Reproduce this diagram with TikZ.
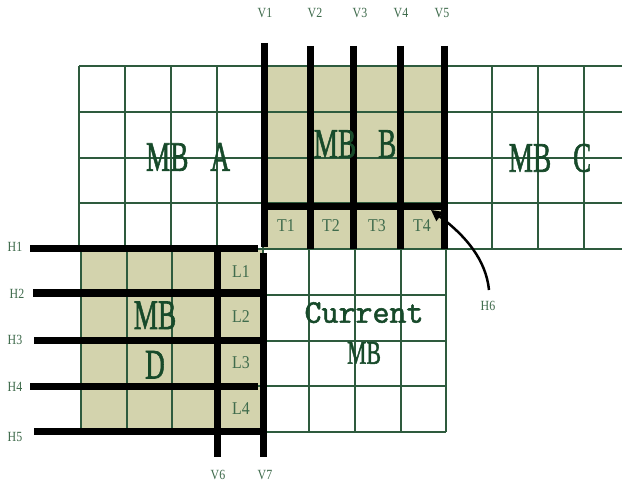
\documentclass[tikz,border=0pt]{standalone}
\usepackage{fontspec}
\setmainfont{Liberation Serif}
\newfontfamily\bigserif[FakeBold=1.6]{Liberation Serif}
\newfontfamily\curfont[FakeBold=1.6]{Latin Modern Mono}
\usetikzlibrary{arrows.meta}
\definecolor{gridc}{HTML}{2E5B3E}
\definecolor{fillc}{HTML}{D3D3AD}
\definecolor{bigtxt}{HTML}{174A2A}
\definecolor{smalltxt}{HTML}{3F6B4C}
\newcommand{\cnd}[2]{\scalebox{#1}[1]{#2}}
\tikzset{
  gridline/.style={draw=gridc, line width=1.2pt},
  thick line/.style={draw=black, line width=7pt},
  biglabel/.style={text=bigtxt, font=\fontsize{42}{49.5}\bigserif, inner sep=0pt, align=center},
  curlabel/.style={text=bigtxt, font=\fontsize{33}{41}\selectfont, inner sep=0pt, align=center},
  celllabel/.style={text=smalltxt, font=\fontsize{18}{18}\selectfont, inner sep=0pt},
  axlabel/.style={text=smalltxt, font=\fontsize{14}{14}\selectfont, inner sep=0pt},
}
\begin{document}
\begin{tikzpicture}[x=1pt,y=-1pt]
\useasboundingbox (0,0) rectangle (622,484);
\fill[white] (0,0) rectangle (622,484);
% shaded blocks
\fill[fillc] (263,66) rectangle (446,249);
\fill[fillc] (81,249) rectangle (263,432);
% grid top row (MB A, B, C)
\foreach \y in {66,112,158,203,249} \draw[gridline] (79,\y) -- (622,\y);
\foreach \x in {79,125,171,217,263,309,355,400,446,492,538,584} \draw[gridline] (\x,66) -- (\x,249);
% grid bottom row (MB D, Current)
\foreach \y in {295,341,386,432} \draw[gridline] (81,\y) -- (446,\y);
\foreach \x in {81,127,172,217,263,309,355,401,446} \draw[gridline] (\x,249) -- (\x,432);
% thick lines
\draw[thick line] (264,43) -- (264,247);
\draw[thick line] (310,46) -- (310,249);
\draw[thick line] (353,46) -- (353,249);
\draw[thick line] (400,46) -- (400,249);
\draw[thick line] (444,46) -- (444,249);
\draw[thick line] (263,207) -- (447,207);
\draw[thick line] (217,249) -- (217,457);
\draw[thick line] (263,253) -- (263,457);
\draw[thick line] (30,249) -- (258,249);
\draw[thick line] (33,293) -- (263,293);
\draw[thick line] (34,340) -- (263,340);
\draw[thick line] (30,386) -- (258,386);
\draw[thick line] (34,431) -- (263,431);
% big labels
\node[biglabel] (mba) at (188,157) {\cnd{0.65}{MB\hspace{0.8em}A}};
\node[biglabel] (mbb) at (355,144) {\cnd{0.65}{MB\hspace{0.8em}B}};
\node[biglabel] (mbc) at (550,158) {\cnd{0.65}{MB\hspace{0.8em}C}};
\node[biglabel] (mbd) at (155,340) {\cnd{0.65}{MB}\\\cnd{0.65}{D}};
\node[curlabel] (cur) at (364,333) {{\curfont Current}\\{\bigserif\cnd{0.66}{MB}}};
% cell labels
\node[celllabel] (t1) at (286,226) {\cnd{0.88}{T1}};
\node[celllabel] (t2) at (331,226) {\cnd{0.88}{T2}};
\node[celllabel] (t3) at (377,226) {\cnd{0.88}{T3}};
\node[celllabel] (t4) at (422,226) {\cnd{0.88}{T4}};
\node[celllabel] (l1) at (241,272) {\cnd{0.88}{L1}};
\node[celllabel] (l2) at (241,317) {\cnd{0.88}{L2}};
\node[celllabel] (l3) at (241,363) {\cnd{0.88}{L3}};
\node[celllabel] (l4) at (241,409) {\cnd{0.88}{L4}};
% axis labels
\node[axlabel] (v1) at (265,13) {\cnd{0.85}{V1}};
\node[axlabel] (v2) at (315,13) {\cnd{0.85}{V2}};
\node[axlabel] (v3) at (360,13) {\cnd{0.85}{V3}};
\node[axlabel] (v4) at (401,13) {\cnd{0.85}{V4}};
\node[axlabel] (v5) at (442,13) {\cnd{0.85}{V5}};
\node[axlabel] (v6) at (218,475) {\cnd{0.85}{V6}};
\node[axlabel] (v7) at (265,475) {\cnd{0.85}{V7}};
\node[axlabel] (h1) at (15,247) {\cnd{0.85}{H1}};
\node[axlabel] (h2) at (17,294) {\cnd{0.85}{H2}};
\node[axlabel] (h3) at (15,340) {\cnd{0.85}{H3}};
\node[axlabel] (h4) at (15,387) {\cnd{0.85}{H4}};
\node[axlabel] (h5) at (15,437) {\cnd{0.85}{H5}};
\node[axlabel] (h6) at (488,306) {\cnd{0.85}{H6}};
% H6 arrow
\coordinate (h6tip) at (431,210);
\draw[line width=2.5pt, -{Triangle[length=11pt,width=11pt]}] (489,290) .. controls (486,260) and (466,236) .. (h6tip);
\end{tikzpicture}
\end{document}
